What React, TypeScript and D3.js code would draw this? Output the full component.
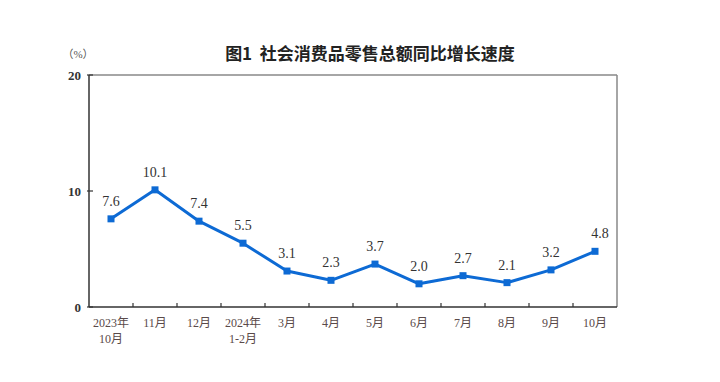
import React from "react";
import * as d3 from "d3";

const categories: string[][] = [
  ["2023年", "10月"], ["11月"], ["12月"], ["2024年", "1-2月"], ["3月"], ["4月"],
  ["5月"], ["6月"], ["7月"], ["8月"], ["9月"], ["10月"],
];
const values: number[] = [7.6, 10.1, 7.4, 5.5, 3.1, 2.3, 3.7, 2.0, 2.7, 2.1, 3.2, 4.8];
const yTicks: number[] = [0, 10, 20];
const title = "图1\u00a0\u00a0社会消费品零售总额同比增长速度";
const unit = "（%）";

const W = 720, H = 382;
const left = 89, right = 617, top = 75, bottom = 307;
const serif = "'Liberation Serif', 'Noto Sans CJK SC', serif";

export default function App() {
  const keys = categories.map((_, i) => String(i));
  const x = d3.scaleBand<string>().domain(keys).range([left, right]);
  const y = d3.scaleLinear().domain([0, 20]).range([bottom, top]);
  const cx = (i: number) => (x(String(i)) as number) + x.bandwidth() / 2;
  const line = d3.line<number>().x((_, i) => cx(i)).y((d) => y(d));
  const tickXs = keys.slice(1).map((k) => x(k) as number);
  return (
    <svg width={W} height={H} style={{ position: "absolute", left: 0, top: 0, background: "#fff" }}>
      <text x={370} y={60} textAnchor="middle" fontFamily="'Noto Sans CJK SC', sans-serif" fontWeight="bold" fontSize={17} fill="#222">{title}</text>
      <text x={78} y={58} textAnchor="middle" fontFamily={serif} fontSize={11} fill="#555">{unit}</text>
      <line x1={left} x2={right} y1={top} y2={top} stroke="#888" strokeWidth={1.5} />
      <line x1={right} x2={right} y1={top} y2={bottom} stroke="#888" strokeWidth={1.5} />
      <line x1={left} x2={left} y1={top} y2={bottom} stroke="#333" strokeWidth={1.5} />
      <line x1={left} x2={right} y1={bottom} y2={bottom} stroke="#333" strokeWidth={1.5} />
      {tickXs.map((tx, i) => (
        <line key={i} x1={tx} x2={tx} y1={bottom} y2={bottom - 4} stroke="#333" strokeWidth={1.2} />
      ))}
      {yTicks.map((t) => (
        <g key={t}>
          <line x1={left - 2} x2={left + 4} y1={y(t)} y2={y(t)} stroke="#333" strokeWidth={1.2} />
          <text x={left - 8} y={y(t) + 4.5} textAnchor="end" fontFamily={serif} fontWeight="bold" fontSize={13} fill="#333">{t}</text>
        </g>
      ))}
      <path d={line(values) as string} fill="none" stroke="#0d6ad4" strokeWidth={3} strokeLinejoin="round" />
      {values.map((v, i) => (
        <g key={i}>
          <rect x={cx(i) - 3.5} y={y(v) - 3.5} width={7} height={7} fill="#0d6ad4" />
          <text x={cx(i) + (i === values.length - 1 ? 5 : 0)} y={y(v) - 13} textAnchor="middle" fontFamily={serif} fontSize={14} fill="#333">{v.toFixed(1)}</text>
        </g>
      ))}
      {categories.map((lines, i) => (
        <text key={i} x={cx(i)} y={327} textAnchor="middle" fontFamily={serif} fontSize={12} fill="#5a4a4a">
          {lines.map((l, j) => (
            <tspan key={j} x={cx(i)} dy={j === 0 ? 0 : 16}>{l}</tspan>
          ))}
        </text>
      ))}
    </svg>
  );
}
